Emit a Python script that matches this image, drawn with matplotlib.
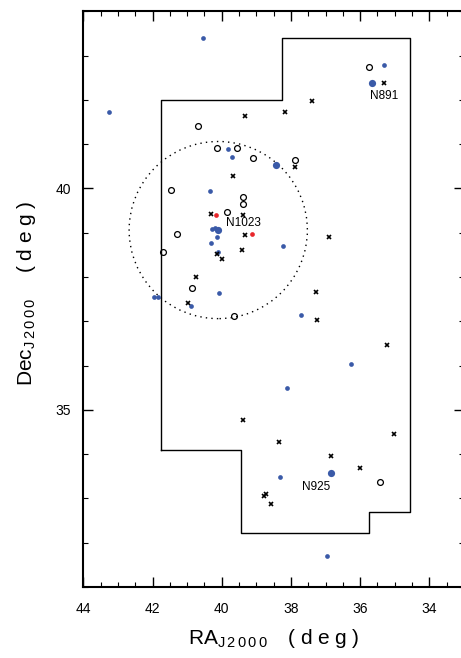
import numpy as np
import matplotlib
matplotlib.use("Agg")
import matplotlib.pyplot as plt
from matplotlib.patches import Ellipse
from matplotlib.ticker import MultipleLocator

plt.rcParams['font.family'] = ['Liberation Sans', 'DejaVu Sans']
plt.rcParams['mathtext.fontset'] = 'custom'
plt.rcParams['mathtext.rm'] = 'Liberation Sans'

# survey footprint outline (RA, Dec in deg)
foot_ra = [41.75, 41.75, 38.25, 38.25, 34.55, 34.55, 35.75, 35.75, 39.45, 39.45, 41.75]
foot_dec = [34.10, 42.00, 42.00, 43.40, 43.40, 32.70, 32.70, 32.22, 32.22, 34.10, 34.10]

# 2 deg circle around NGC 1023
circ_ra, circ_dec, circ_r = 40.10, 39.06, 2.0

# bright galaxies
big_name = ['N891', 'N925', 'N1023', '']
big_ra = [35.65, 36.83, 40.10, 38.44]
big_dec = [42.38, 33.57, 39.07, 40.54]
big_off = [(8.4, -9.4), (-11, -9.9), (18.4, 5.0), (0, 0)]

# confirmed dwarfs
blue_ra = [40.54, 43.26, 39.82, 39.70, 40.34, 40.28, 40.19, 40.14, 40.31, 40.11,
           41.97, 41.83, 40.89, 40.07, 38.24, 37.70, 36.26, 38.10, 38.32, 36.97, 35.31]
blue_dec = [43.40, 41.73, 40.89, 40.71, 39.94, 39.09, 39.11, 38.91, 38.76, 38.57,
            37.54, 37.54, 37.35, 37.63, 38.70, 37.15, 36.04, 35.50, 33.49, 31.71, 42.79]

# new candidates
red_ra = [40.16, 39.12]
red_dec = [39.40, 38.98]

# open circles
open_ra = [35.74, 40.68, 40.13, 39.57, 39.10, 37.88, 41.46, 39.38, 39.38, 39.84,
           41.29, 41.69, 40.85, 39.64, 35.42]
open_dec = [42.74, 41.40, 40.91, 40.92, 40.68, 40.64, 39.97, 39.81, 39.65, 39.46,
            38.96, 38.57, 37.75, 37.11, 33.37]

# crosses
cross_ra = [35.31, 39.34, 38.17, 37.40, 37.88, 39.66, 40.32, 39.38, 39.33, 39.41,
            40.13, 39.99, 40.75, 40.98, 36.90, 37.28, 37.25, 35.22, 39.39, 38.34,
            36.84, 36.00, 35.02, 38.78, 38.72, 38.58]
cross_dec = [42.39, 41.63, 41.73, 41.98, 40.48, 40.27, 39.42, 39.40, 38.95, 38.61,
             38.51, 38.41, 38.00, 37.42, 38.91, 37.66, 37.03, 36.47, 34.77, 34.28,
             33.95, 33.68, 34.45, 33.05, 33.09, 32.87]

blue = '#3a5aa8'
red = '#e8262b'

fig = plt.figure(figsize=(4.61, 6.58), dpi=100)
ax = fig.add_axes([83.3 / 461, 71 / 658, 380.6 / 461, 575.7 / 658])

ax.plot(foot_ra, foot_dec, color='black', lw=1.0, zorder=1)
w = 2 * circ_r / np.cos(np.radians(circ_dec))
ax.add_patch(Ellipse((circ_ra, circ_dec), w, 2 * circ_r, fill=False,
                     ls=(0, (1, 3)), lw=1.0, color='black', zorder=1))

ax.plot(blue_ra, blue_dec, 'o', color=blue, ms=3.4, mec='none', zorder=3)
ax.plot(big_ra, big_dec, 'o', color=blue, ms=5.2, mec='none', zorder=3)
ax.plot(red_ra, red_dec, 'o', color=red, ms=3.4, mec='none', zorder=3)
ax.plot(open_ra, open_dec, 'o', mfc='none', mec='black', ms=4.2, mew=0.9, zorder=3)
ax.plot(cross_ra, cross_dec, 'x', color='black', ms=3.3, mew=1.2, zorder=3)

for name, x, y, off in zip(big_name, big_ra, big_dec, big_off):
    if name:
        ax.annotate(name, (x, y), xytext=off, textcoords='offset points',
                    ha='center', va='center', fontsize=8.5)

ax.set_xlim(44, 33)
ax.set_ylim(31, 44)
ax.xaxis.set_major_locator(MultipleLocator(2))
ax.xaxis.set_minor_locator(MultipleLocator(0.5))
ax.yaxis.set_major_locator(MultipleLocator(5))
ax.yaxis.set_minor_locator(MultipleLocator(1))
ax.tick_params(which='both', direction='in', top=True, right=True)
ax.tick_params(which='major', length=7, width=1)
ax.tick_params(which='minor', length=3.5, width=0.8)
ax.tick_params(axis='x', pad=11, labelsize=10)
ax.tick_params(axis='y', pad=9, labelsize=10)
for s in ax.spines.values():
    s.set_linewidth(1.5)
ax.spines['right'].set_visible(False)

# wide letter spacing in the axis titles
sub = r'_{\mathregular{J\,2\,0\,0\,0}}'
deg = r'\quad\mathregular{(\;d\;e\;g\;)}'
ax.set_xlabel(r'$\mathregular{RA}' + sub + deg + '$', fontsize=15)
ax.set_ylabel(r'$\mathregular{Dec}' + sub + r'\;' + deg + '$', fontsize=15)
ax.xaxis.set_label_coords(0.5, -0.069)
ax.yaxis.set_label_coords(-0.119, 0.51)

fig.savefig('out.png', dpi=100)
